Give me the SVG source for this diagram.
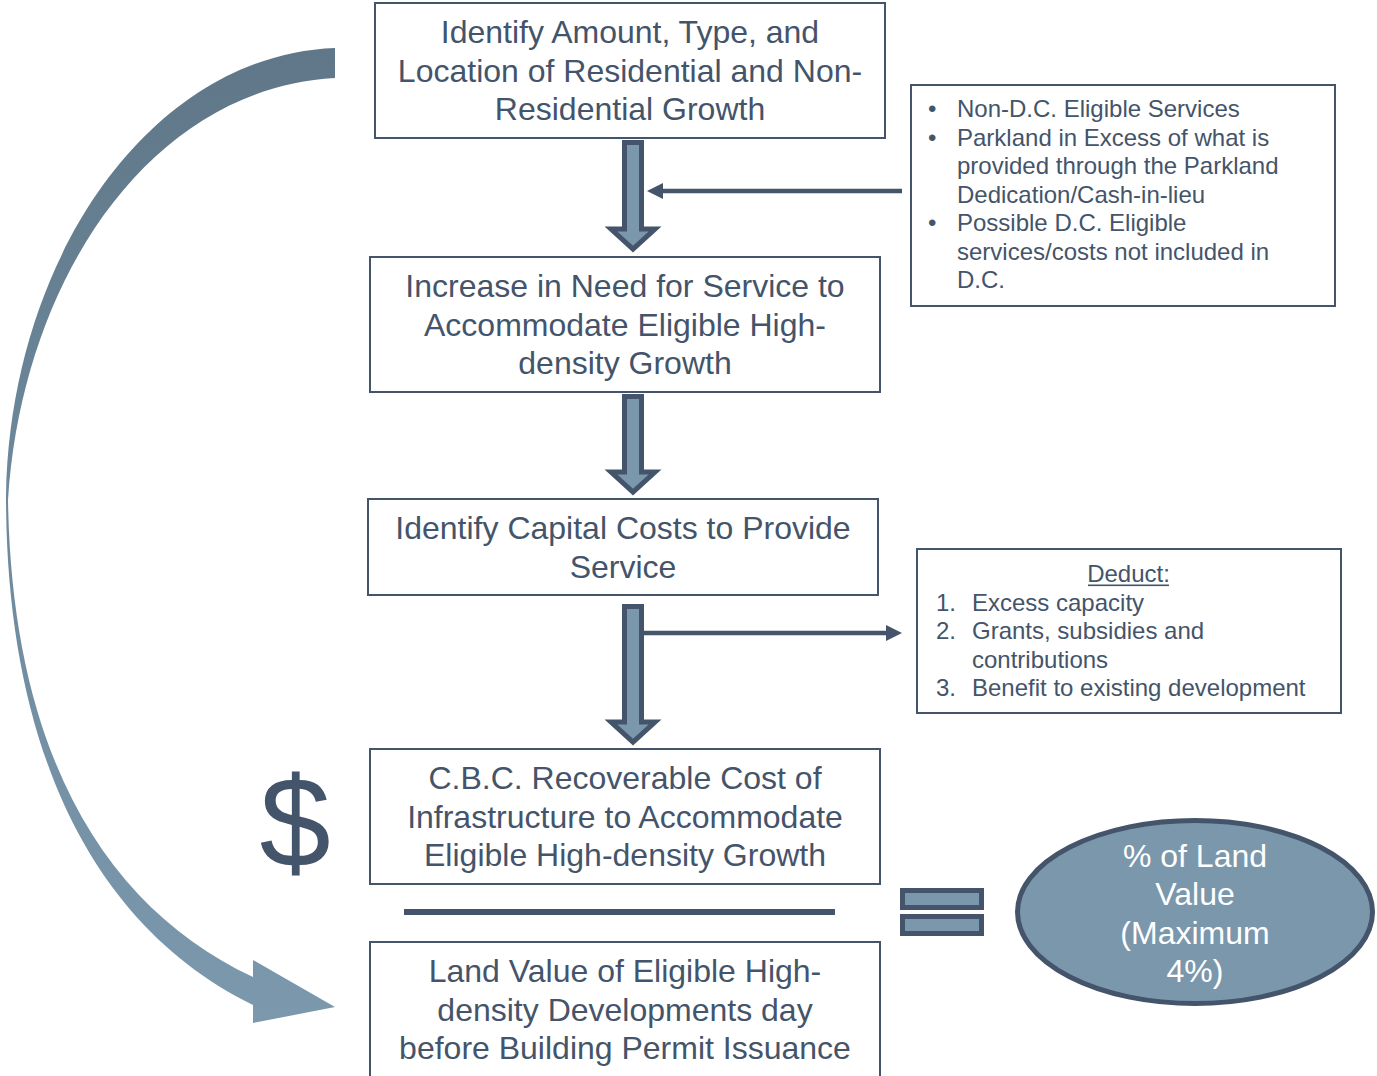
<svg xmlns="http://www.w3.org/2000/svg" width="1377" height="1076" viewBox="0 0 1377 1076">
<defs>
<linearGradient id="curveGrad" gradientUnits="userSpaceOnUse" x1="0" y1="48" x2="0" y2="1023">
<stop offset="0" stop-color="#5f7788"/>
<stop offset="0.5" stop-color="#6f8a9e"/>
<stop offset="1" stop-color="#7b98ad"/>
</linearGradient>
<style>
.box{fill:#ffffff;stroke:#44546a;stroke-width:2}
.t{font-family:"Liberation Sans",Arial,sans-serif;font-size:32px;fill:#44546a;text-anchor:middle}
.s{font-family:"Liberation Sans",Arial,sans-serif;font-size:24px;fill:#44546a}
.w{font-family:"Liberation Sans",Arial,sans-serif;font-size:32px;fill:#ffffff;text-anchor:middle}
.blk{fill:#7b97ac;stroke:#44546a;stroke-width:5;stroke-linejoin:miter;stroke-miterlimit:10}
.ln{stroke:#44546a;stroke-width:4.5;fill:none}
.hd{fill:#44546a}
</style>
</defs>
<rect width="1377" height="1076" fill="#ffffff"/>

<g id="connectors">
<path id="curved-arrow" fill="url(#curveGrad)" d="M335,48 C150,55 10,260 6,495 C6,760 100,930 253,1005 L253,1023 L335,1007 L253,960 L253,977 C110,910 12,760 8,500 C22,280 150,88 335,78 Z"/>
<polygon class="blk" points="624.5,142.5 641.5,142.5 641.5,229 655,229 633,249 611,229 624.5,229"/>
<polygon class="blk" points="624.5,396.5 641.5,396.5 641.5,472 655,472 633,492 611,472 624.5,472"/>
<polygon class="blk" points="624.5,606.5 641.5,606.5 641.5,722 655,722 633,742 611,722 624.5,722"/>
<line class="ln" x1="902" y1="191" x2="660" y2="191"/>
<polygon class="hd" points="647,191 663,183 663,199"/>
<line class="ln" x1="644" y1="633" x2="888" y2="633"/>
<polygon class="hd" points="902,633 886,625 886,641"/>
</g>

<g id="node-growth">
<rect class="box" x="375" y="3" width="510" height="135"/>
<text class="t" x="630" y="43">Identify Amount, Type, and</text>
<text class="t" x="630" y="81.5">Location of Residential and Non-</text>
<text class="t" x="630" y="120">Residential Growth</text>
</g>

<g id="node-need">
<rect class="box" x="370" y="257" width="510" height="135"/>
<text class="t" x="625" y="297">Increase in Need for Service to</text>
<text class="t" x="625" y="335.5">Accommodate Eligible High-</text>
<text class="t" x="625" y="374">density Growth</text>
</g>

<g id="node-costs">
<rect class="box" x="368" y="499" width="510" height="96"/>
<text class="t" x="623" y="539">Identify Capital Costs to Provide</text>
<text class="t" x="623" y="577.5">Service</text>
</g>

<g id="node-cbc">
<rect class="box" x="370" y="749" width="510" height="135"/>
<text class="t" x="625" y="789">C.B.C. Recoverable Cost of</text>
<text class="t" x="625" y="827.5">Infrastructure to Accommodate</text>
<text class="t" x="625" y="866">Eligible High-density Growth</text>
</g>

<g id="fraction-bar">
<rect x="404" y="909" width="431" height="6" fill="#44546a"/>
</g>

<g id="node-land">
<rect class="box" x="370" y="942" width="510" height="140"/>
<text class="t" x="625" y="982">Land Value of Eligible High-</text>
<text class="t" x="625" y="1020.5">density Developments day</text>
<text class="t" x="625" y="1059">before Building Permit Issuance</text>
</g>

<g id="node-exclusions">
<rect class="box" x="911" y="85" width="424" height="221"/>
<text class="s" x="928" y="117">•</text>
<text class="s" x="957" y="117">Non-D.C. Eligible Services</text>
<text class="s" x="928" y="145.5">•</text>
<text class="s" x="957" y="145.5">Parkland in Excess of what is</text>
<text class="s" x="957" y="174">provided through the Parkland</text>
<text class="s" x="957" y="202.5">Dedication/Cash-in-lieu</text>
<text class="s" x="928" y="231">•</text>
<text class="s" x="957" y="231">Possible D.C. Eligible</text>
<text class="s" x="957" y="259.5">services/costs not included in</text>
<text class="s" x="957" y="288">D.C.</text>
</g>

<g id="node-deduct">
<rect class="box" x="917" y="549" width="424" height="164"/>
<text class="s" x="1128.5" y="582" text-anchor="middle">Deduct:</text>
<rect x="1088" y="584.5" width="81" height="1.6" fill="#44546a"/>
<text class="s" x="936" y="610.5">1.</text>
<text class="s" x="972" y="610.5">Excess capacity</text>
<text class="s" x="936" y="639">2.</text>
<text class="s" x="972" y="639">Grants, subsidies and</text>
<text class="s" x="972" y="667.5">contributions</text>
<text class="s" x="936" y="696">3.</text>
<text class="s" x="972" y="696">Benefit to existing development</text>
</g>

<g id="dollar-sign">
<text x="295" y="867" text-anchor="middle" font-family="Liberation Sans, Arial, sans-serif" font-size="128" fill="#44546a">$</text>
</g>

<g id="equals-sign">
<rect class="blk" x="902.5" y="890.5" width="79" height="17"/>
<rect class="blk" x="902.5" y="916.5" width="79" height="17"/>
</g>

<g id="node-percent">
<ellipse cx="1195" cy="912" rx="177.5" ry="91.5" fill="#7b97ac" stroke="#44546a" stroke-width="5"/>
<text class="w" x="1195" y="867">% of Land</text>
<text class="w" x="1195" y="905">Value</text>
<text class="w" x="1195" y="943.5">(Maximum</text>
<text class="w" x="1195" y="981.5">4%)</text>
</g>
</svg>
